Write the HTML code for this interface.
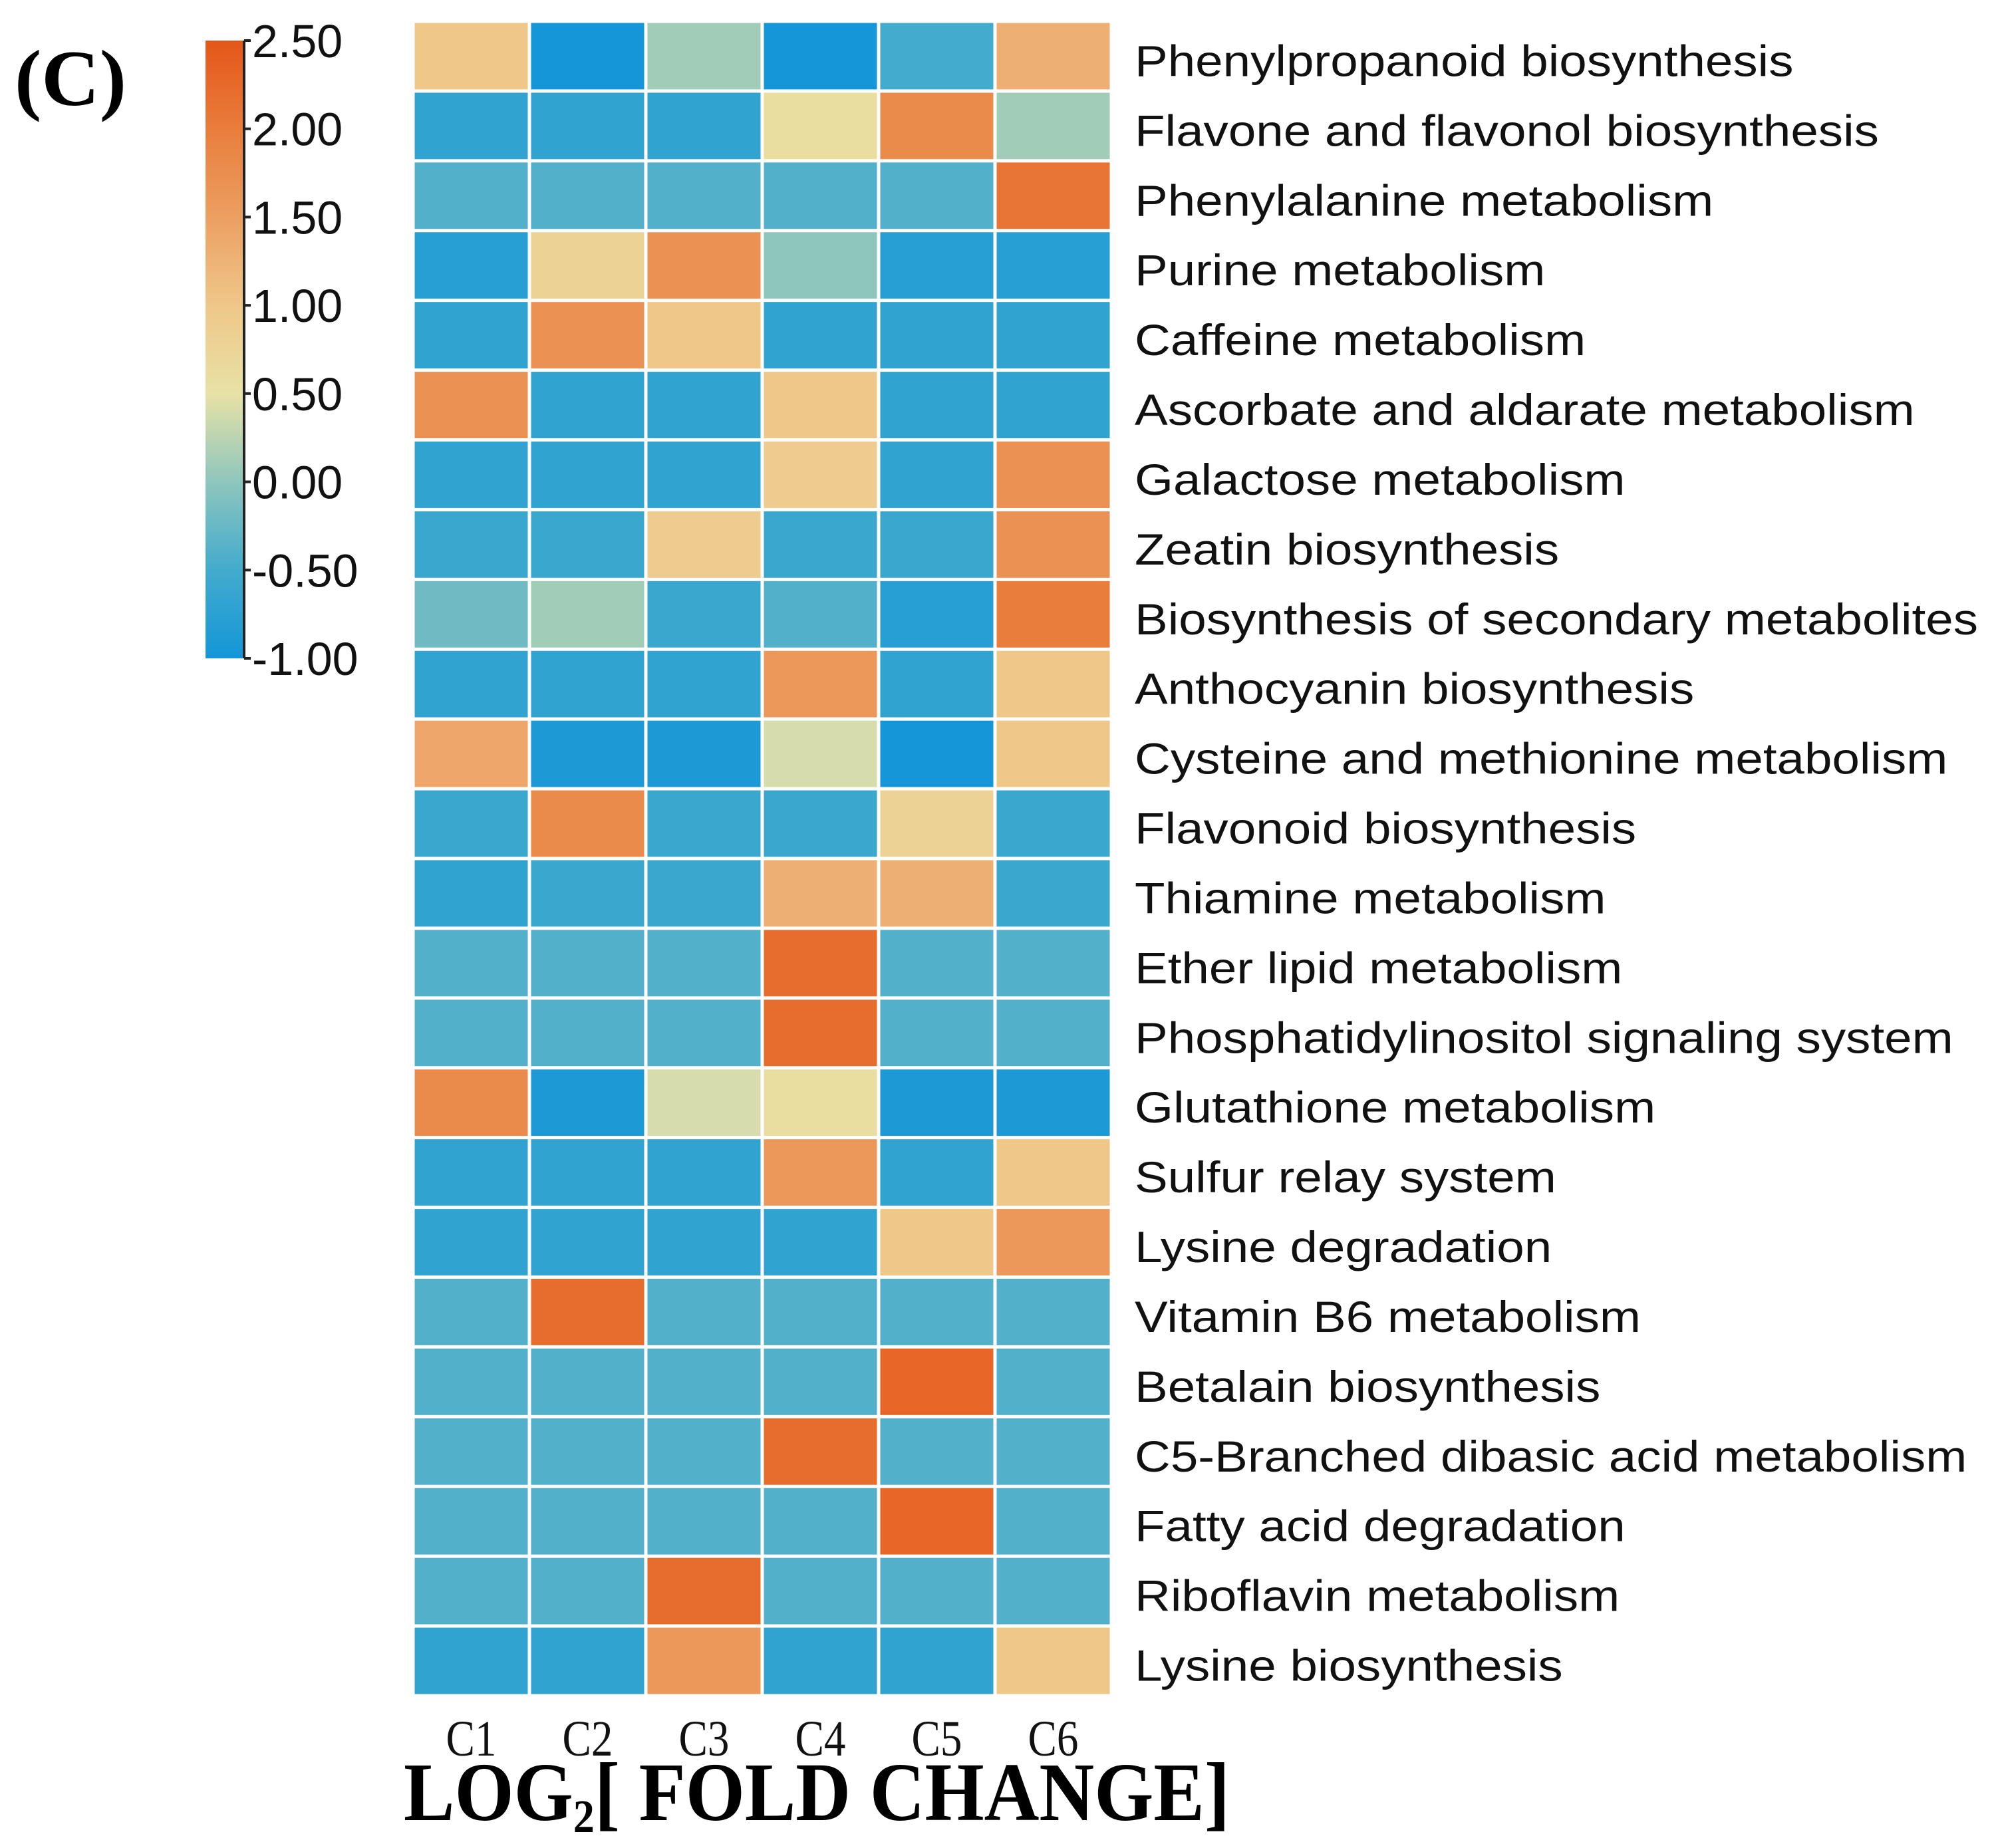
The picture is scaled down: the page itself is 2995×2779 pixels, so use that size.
<!DOCTYPE html>
<html><head><meta charset="utf-8"><style>
html,body{margin:0;padding:0;background:#fff;}
svg{display:block;}
</style></head><body>
<svg id="chart" width="2995" height="2779" viewBox="0 0 2995 2779" xmlns="http://www.w3.org/2000/svg">
<defs>
<linearGradient id="cbgrad" x1="0" y1="1" x2="0" y2="0">
<stop offset="0" stop-color="#1496d8"/>
<stop offset="0.1429" stop-color="#43abcd"/>
<stop offset="0.2857" stop-color="#8ec6bd"/>
<stop offset="0.4286" stop-color="#e8e2a6"/>
<stop offset="0.5714" stop-color="#efc789"/>
<stop offset="0.7143" stop-color="#ec9f62"/>
<stop offset="0.8571" stop-color="#e97d3c"/>
<stop offset="1" stop-color="#e5561a"/>
</linearGradient>
</defs>
<text x="22" y="158" font-family="Liberation Serif, serif" font-weight="bold" font-size="120" textLength="168" lengthAdjust="spacingAndGlyphs">(C)</text>
<g id="colorbar"></g>
<g id="cells"></g>
<g id="rowlabels"></g>
<g id="collabels"></g>
<text id="title" x="607" y="2737" font-family="Liberation Serif, serif" font-weight="bold" font-size="125">LOG<tspan font-size="70" dy="18">2</tspan><tspan dy="-18">[ FOLD CHANGE]</tspan></text>
</svg>
<script>
const rows = ["Phenylpropanoid biosynthesis","Flavone and flavonol biosynthesis","Phenylalanine metabolism","Purine metabolism","Caffeine metabolism","Ascorbate and aldarate metabolism","Galactose metabolism","Zeatin biosynthesis","Biosynthesis of secondary metabolites","Anthocyanin biosynthesis","Cysteine and methionine metabolism","Flavonoid biosynthesis","Thiamine metabolism","Ether lipid metabolism","Phosphatidylinositol signaling system","Glutathione metabolism","Sulfur relay system","Lysine degradation","Vitamin B6 metabolism","Betalain biosynthesis","C5-Branched dibasic acid metabolism","Fatty acid degradation","Riboflavin metabolism","Lysine biosynthesis"];
const cols = ["C1","C2","C3","C4","C5","C6"];
const values = [
[1.0,-1.0,0.1,-1.0,-0.5,1.3],
[-0.7,-0.7,-0.7,0.6,1.8,0.1],
[-0.4,-0.4,-0.4,-0.4,-0.4,2.1],
[-0.8,0.8,1.7,0.0,-0.8,-0.8],
[-0.7,1.7,1.0,-0.7,-0.7,-0.7],
[1.7,-0.7,-0.7,1.0,-0.7,-0.7],
[-0.7,-0.7,-0.7,0.9,-0.7,1.7],
[-0.6,-0.6,0.9,-0.6,-0.6,1.7],
[-0.2,0.1,-0.6,-0.4,-0.8,2.0],
[-0.7,-0.7,-0.7,1.6,-0.7,1.0],
[1.4,-0.9,-0.9,0.4,-1.0,1.0],
[-0.6,1.8,-0.6,-0.6,0.8,-0.6],
[-0.7,-0.6,-0.6,1.3,1.3,-0.6],
[-0.4,-0.4,-0.4,2.2,-0.4,-0.4],
[-0.4,-0.4,-0.4,2.2,-0.4,-0.4],
[1.8,-0.9,0.4,0.6,-0.9,-0.9],
[-0.7,-0.7,-0.7,1.6,-0.7,1.0],
[-0.7,-0.7,-0.7,-0.7,1.0,1.6],
[-0.4,2.2,-0.4,-0.4,-0.4,-0.4],
[-0.4,-0.4,-0.4,-0.4,2.3,-0.4],
[-0.4,-0.4,-0.4,2.2,-0.4,-0.4],
[-0.4,-0.4,-0.4,-0.4,2.3,-0.4],
[-0.4,-0.4,2.2,-0.4,-0.4,-0.4],
[-0.7,-0.7,1.6,-0.7,-0.7,1.0]
];
const cbTicks = [2.5,2.0,1.5,1.0,0.5,0.0,-0.5,-1.0];
const cbTickLabels = ["2.50","2.00","1.50","1.00","0.50","0.00","-0.50","-1.00"];

const NS="http://www.w3.org/2000/svg";
function mk(tag,attrs,parent){const e=document.createElementNS(NS,tag);for(const k in attrs)e.setAttribute(k,attrs[k]);parent.appendChild(e);return e;}
const stops=[[-1,[20,150,216]],[-0.5,[67,171,205]],[0,[142,198,189]],[0.5,[232,226,166]],[1.0,[239,199,137]],[1.5,[236,159,98]],[2.0,[233,125,60]],[2.5,[229,86,26]]];
function color(v){v=Math.max(-1,Math.min(2.5,v));for(let i=0;i<stops.length-1;i++){const a=stops[i],b=stops[i+1];if(v<=b[0]){const t=(v-a[0])/(b[0]-a[0]);const c=a[1].map((x,j)=>Math.round(x+(b[1][j]-x)*t));return `rgb(${c.join(',')})`;}}return 'rgb(229,86,26)';}
const X0=621,X1=1671,Y0=32,Y1=2550;
const cw=(X1-X0)/cols.length, rh=(Y1-Y0)/rows.length;
const xPos=i=>X0+i*cw, yPos=j=>Y0+j*rh;
const gCells=document.getElementById('cells');
values.forEach((r,j)=>r.forEach((v,i)=>{
  const rc=mk('rect',{x:xPos(i)+2.5,y:yPos(j)+2.5,width:cw-5,height:rh-5,fill:color(v)},gCells);
  
  
}));
const gR=document.getElementById('rowlabels');
const rowEls=rows.map((r,j)=>{
  const t=mk('text',{x:1706,y:yPos(j)+rh/2+30,'font-family':'Liberation Sans, sans-serif','font-size':66,fill:'#111'},gR);
  t.textContent=r;
  
  
  return t;});
const longest=rowEls[8].getComputedTextLength();
const f=1268/longest;
rowEls.forEach(t=>{const w=t.getComputedTextLength();t.setAttribute('textLength',w*f);t.setAttribute('lengthAdjust','spacingAndGlyphs');});
const gC=document.getElementById('collabels');
cols.forEach((c,i)=>{
  const t=mk('text',{x:xPos(i)+cw/2,y:2640,'text-anchor':'middle','font-family':'Liberation Serif, serif','font-size':76,fill:'#111',textLength:76,lengthAdjust:'spacingAndGlyphs'},gC);
  t.textContent=c;
  
  
});
const title=document.getElementById('title');
title.setAttribute('textLength',1242);title.setAttribute('lengthAdjust','spacingAndGlyphs');
// colorbar
const gB=document.getElementById('colorbar');
const CBX=309,CBW=56,CBT=61,CBB=990;
const cbY=v=>CBB-(v-(-1))/(2.5-(-1))*(CBB-CBT);
const bar=mk('rect',{x:CBX,y:CBT,width:CBW,height:CBB-CBT,fill:'url(#cbgrad)'},gB);


mk('line',{x1:CBX+CBW+2,y1:CBT,x2:CBX+CBW+2,y2:CBB,stroke:'#222','stroke-width':4},gB);
cbTicks.forEach((v,k)=>{
  mk('line',{x1:CBX+CBW+2,y1:cbY(v),x2:CBX+CBW+12,y2:cbY(v),stroke:'#222','stroke-width':4},gB);
  const t=mk('text',{x:CBX+CBW+14,y:cbY(v)+25,'font-family':'Liberation Sans, sans-serif','font-size':70,fill:'#111'},gB);
  t.textContent=cbTickLabels[k];
  
  
});
</script>
</body></html>
